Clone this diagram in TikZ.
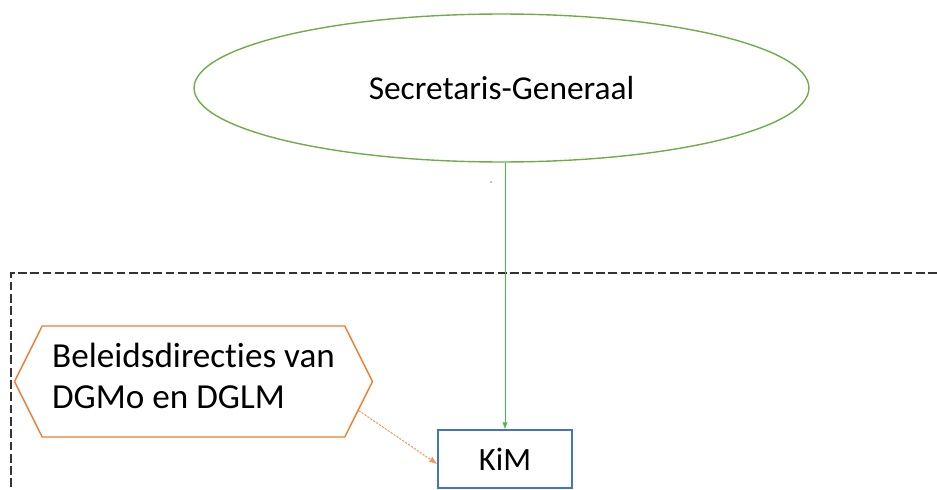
\documentclass[tikz,border=0pt]{standalone}
\usepackage{fontspec}
\setmainfont{Carlito}[Ligatures=NoCommon]
\usetikzlibrary{shapes.geometric,shapes.symbols}

\definecolor{sggreen}{RGB}{112,173,71}
\definecolor{dgorange}{RGB}{237,125,49}
\definecolor{kimblue}{RGB}{68,114,196}

\begin{document}
\begin{tikzpicture}[x=0.02cm,y=-0.02cm,
	sgnode/.style={ellipse,draw=sggreen,thick,minimum width=12.3cm,minimum height=2.96cm,inner sep=0pt,font=\fontsize{19}{23}\selectfont},
	dgnode/.style={signal,signal to=west and east,signal pointer angle=127,draw=dgorange,thick,minimum width=7.16cm,minimum height=2.22cm,inner sep=0pt,align=left,text depth=0.24cm,font=\fontsize{20}{23.3}\selectfont},
	kimnode/.style={rectangle,draw=kimblue,thick,minimum width=2.68cm,minimum height=1.16cm,inner sep=0pt,font=\fontsize{18.5}{22}\selectfont}]
	\useasboundingbox (0,0) rectangle (937,490);
	
	% Nodes
	\node[sgnode] (sg) at (501.5,88) {Secretaris-Generaal};
	\node[dgnode] (dg) at (193.5,381.5) {Beleidsdirecties van\\DGMo en DGLM};
	\node[kimnode] (kim) at (505,459) {KiM};
	
	% boundary (dashed)
	\coordinate (bnd) at (937,273);
	\draw[black!80,line width=0.8pt,dash pattern=on 5pt off 2pt] (bnd) -- (11,273) -- (11,490);
	
	% stray dot
	\fill (491,182) circle (0.6);
	
	% Connectors
	\draw[green!45!gray,-latex] (sg.south -| kim.north) -- (kim.north);
	\draw[dgorange!80,line width=0.6pt,dash pattern=on 1.2pt off 0.8pt,-latex] (dg.-10) -- ([yshift=-0.1cm]kim.west);
\end{tikzpicture}
\end{document}
